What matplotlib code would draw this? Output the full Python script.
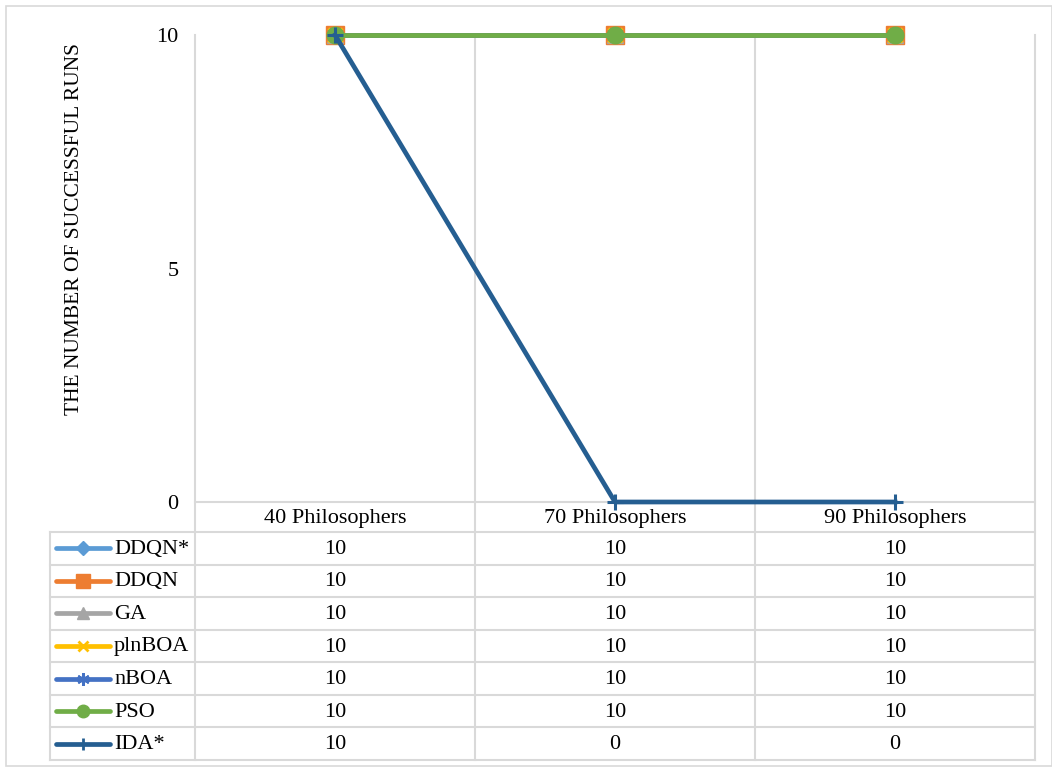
import matplotlib.pyplot as plt

plt.rcParams['font.family'] = ['Liberation Serif', 'DejaVu Serif']

categories = ['40 Philosophers', '70 Philosophers', '90 Philosophers']
series_names = ['DDQN*', 'DDQN', 'GA', 'plnBOA', 'nBOA', 'PSO', 'IDA*']
ddqn_star = [10, 10, 10]
ddqn = [10, 10, 10]
ga = [10, 10, 10]
plnboa = [10, 10, 10]
nboa = [10, 10, 10]
pso = [10, 10, 10]
ida_star = [10, 0, 0]
series_values = [ddqn_star, ddqn, ga, plnboa, nboa, pso, ida_star]

colors = ['#5B9BD5', '#ED7D31', '#A5A5A5', '#FFC000', '#4472C4', '#70AD47', '#255E91']
markers = ['D', 's', '^', 'x', (6, 2, 0), 'o', '+']
msizes = [9, 13, 11, 10, 12, 12, 12]

W, H = 1052, 767
grid_c = '#D9D9D9'
fs = 16

fig = plt.figure(figsize=(W / 100, H / 100), dpi=100)

# pixel layout of the plot area and the data table underneath it
left, right = 195, 1035
top, axis_y = 35, 502
head_bot = 532
row_h = (760 - head_bot) / len(series_names)
key_left = 50
col_w = (right - left) / len(categories)


def is_thin(m):
    return m in ('x', '+') or isinstance(m, tuple)


# table / frame layer in pixel coordinates
tab = fig.add_axes([0, 0, 1, 1])
tab.set_xlim(0, W)
tab.set_ylim(H, 0)
tab.axis('off')
tab.set_zorder(0)

tab.add_patch(plt.Rectangle((6, 6), W - 6.5, H - 7, fill=False, ec=grid_c, lw=1.2))

table_bot = head_bot + row_h * len(series_names)
tab.plot([left, right], [axis_y, axis_y], color=grid_c, lw=1.5)
for k in range(len(series_names) + 1):
    y = head_bot + k * row_h
    tab.plot([key_left, right], [y, y], color=grid_c, lw=1.5)
tab.plot([key_left, key_left], [head_bot, table_bot], color=grid_c, lw=1.5)
for j in range(len(categories) + 1):
    x = left + j * col_w
    tab.plot([x, x], [top, table_bot], color=grid_c, lw=1.5)

for j, cat in enumerate(categories):
    tab.text(left + (j + 0.5) * col_w, (axis_y + head_bot) / 2 + 1, cat,
             ha='center', va='center', fontsize=fs)

for i, (name, vals) in enumerate(zip(series_names, series_values)):
    yc = head_bot + (i + 0.5) * row_h
    tab.plot([56, 110], [yc, yc], color=colors[i], lw=3.4, solid_capstyle='round')
    tab.plot([83], [yc], marker=markers[i], color=colors[i], ms=msizes[i] * 0.75,
             mew=2 if is_thin(markers[i]) else 1)
    tab.text(114, yc + 1, name, ha='left', va='center', fontsize=fs)
    for j, v in enumerate(vals):
        tab.text(left + (j + 0.5) * col_w, yc + 1, str(v), ha='center', va='center', fontsize=fs)

# line chart
ax = fig.add_axes([left / W, 1 - axis_y / H, (right - left) / W, (axis_y - top) / H])
ax.set_zorder(1)
ax.patch.set_alpha(0)
x = list(range(len(categories)))
for i, vals in enumerate(series_values):
    ax.plot(x, vals, color=colors[i], lw=3.4, marker=markers[i], ms=msizes[i],
            mew=2.2 if is_thin(markers[i]) else 1, clip_on=False, zorder=3 + i)

ax.set_xlim(-0.5, len(categories) - 0.5)
ax.set_ylim(0, 10)
ax.set_xticks([])
ax.set_yticks([0, 5, 10])
ax.tick_params(axis='y', length=0, pad=12, labelsize=fs)
for s in ax.spines.values():
    s.set_visible(False)

fig.text(75 / W, 1 - 229 / H, 'THE NUMBER OF SUCCESSFUL RUNS', rotation=90,
         ha='center', va='center', fontsize=15.5)

fig.savefig('out.png', dpi=100)
